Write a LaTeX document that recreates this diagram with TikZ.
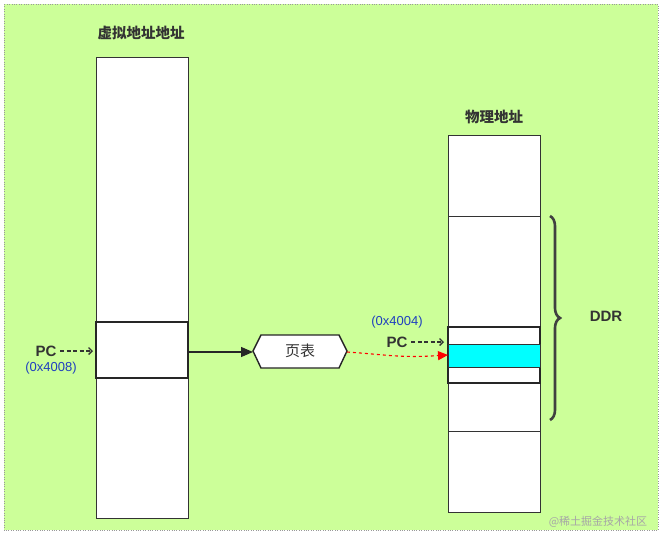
\documentclass[tikz,border=0pt]{standalone}
\usepackage{fontspec}
\setmainfont{Liberation Sans}
\newfontfamily\cjk{Noto Sans CJK SC}
\usetikzlibrary{shapes.misc,shapes.geometric,decorations.pathreplacing,arrows.meta}
\definecolor{bg}{HTML}{CCFF99}
\definecolor{addr}{HTML}{1F3FBF}
\definecolor{cy}{HTML}{00FFFF}
\tikzset{
 col/.style={draw=black!80,fill=white,line width=0.6pt},
 hl/.style={draw=black!85,line width=1.4pt},
 pcarr/.style={dash pattern=on 4pt off 2.5pt,-{Straight Barb[length=3.5pt,width=7pt]},black!80,line width=1.3pt},
 pcl/.style={font=\bfseries\fontsize{15}{15}\selectfont,text=black!80},
 adl/.style={text=addr,font=\fontsize{13}{13}\selectfont},
 ttl/.style={font=\cjk\bfseries\fontsize{14.5}{14.5}\selectfont,text=black!80},
}
\begin{document}
\begin{tikzpicture}[x=1pt,y=-1pt]
\useasboundingbox (0,0) rectangle (662,536);
\fill[bg] (4,4) rectangle (658,530);
\draw[black!40,dotted] (4,4) rectangle (658,530);
% left column
\draw[col] (96,57) rectangle (188,518);
\draw[hl,fill=white] (96,322) rectangle (188,378);
\node[ttl] (vt) at (141,33) {虚拟地址地址};
% right column
\draw[col] (448,135) rectangle (540,512);
\draw[black!80,line width=0.6pt] (448,216) -- (540,216) (448,431) -- (540,431);
\draw[hl,fill=white] (448,327) rectangle (540,383);
\draw[black!80,fill=cy,line width=0.6pt] (448,344) rectangle (540,367);
\coordinate (cyanL) at (448,355);
\node[ttl] (pt) at (494,117) {物理地址};
% brace
\draw[decorate,decoration={brace,amplitude=10pt},line width=2.6pt,black!75] (550,216) -- (550,420);
\node[font=\bfseries\fontsize{15}{15}\selectfont,text=black!80] (ddr) at (606,316) {DDR};
% hexagon
\draw[fill=white,draw=black!85,line width=1.4pt] (253,351) -- (261,335) -- (339,335) -- (347,351) -- (339,368) -- (261,368) -- cycle;
\node[font=\cjk\fontsize{15}{15}\selectfont,text=black!80] (pg) at (300,351) {页表};
\coordinate (pgL) at (253,352);
\coordinate (pgR) at (347,352);
\coordinate (vR) at (189,352);
\draw[black!85,line width=1.2pt,-{Triangle[length=12pt,width=10pt]}] (vR) -- (pgL);
\draw[red,dashed,line width=1.1pt,-{Triangle[length=10pt,width=9pt]}] (pgR) .. controls (390,355) and (400,358) .. (cyanL);
% PC labels
\node[pcl,anchor=east] (pc1) at (60,351) {PC};
\coordinate (pc1e) at (93,351);
\draw[pcarr] (pc1.east) -- (pc1e);
\node[adl] (a1) at (51,368) {(0x4008)};
\node[adl] (a2) at (397,322) {(0x4004)};
\node[pcl,anchor=east] (pc2) at (411,342) {PC};
\coordinate (pc2e) at (444,342);
\draw[pcarr] (pc2.east) -- (pc2e);
\node[text=black!35,font=\cjk\fontsize{11}{11}\selectfont] (wm) at (598,522) {@稀土掘金技术社区};
\end{tikzpicture}
\end{document}
